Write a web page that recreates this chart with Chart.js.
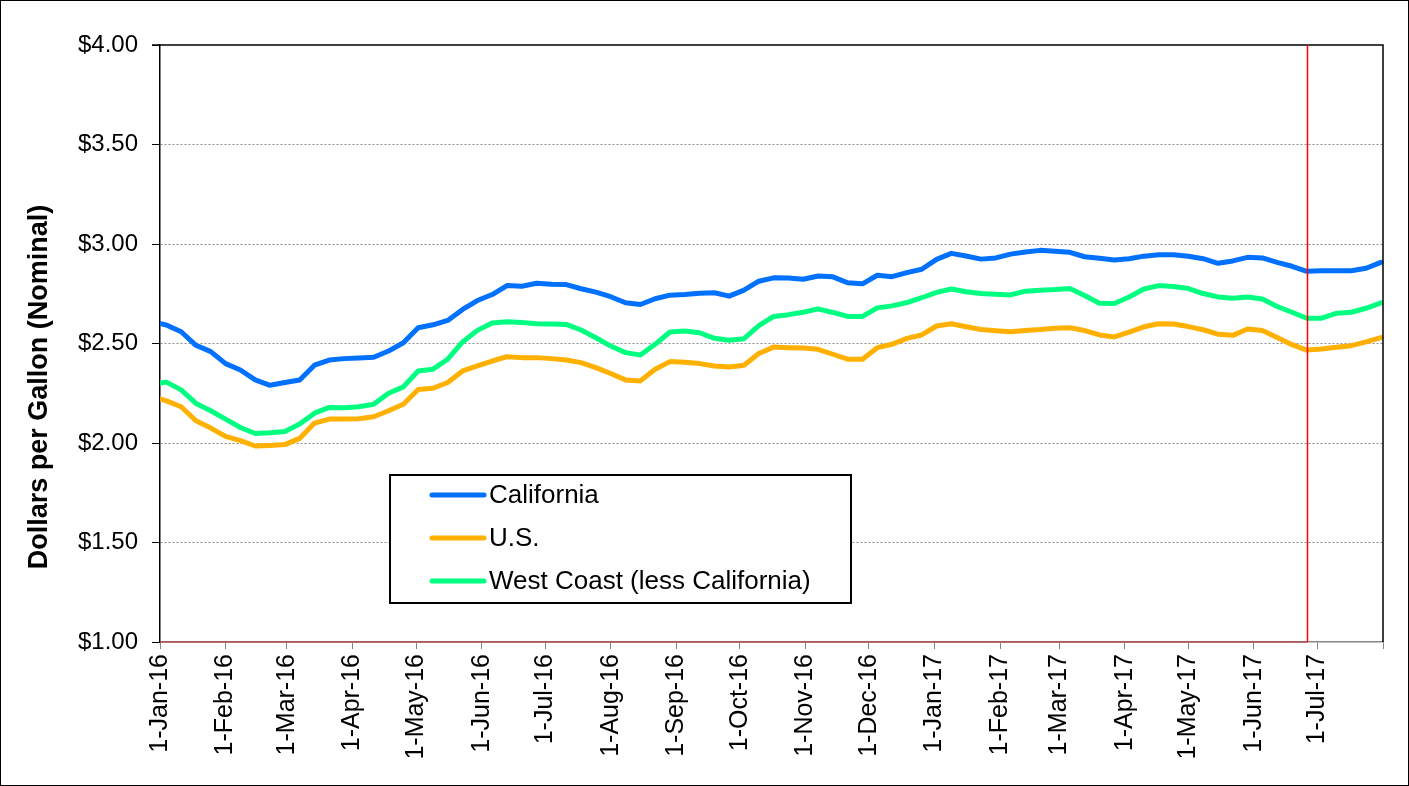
<!DOCTYPE html>
<html><head><meta charset="utf-8">
<script src="https://cdn.jsdelivr.net/npm/chart.js@4.4.0/dist/chart.umd.min.js"></script>
<style>html,body{margin:0;padding:0;background:#fff;}#wrap{width:1409px;height:786px;}canvas{display:block;}</style>
</head><body><div id="wrap"><canvas id="c" width="1409" height="786"></canvas></div>
<script>
const weekDates = [
'2015-12-28','2016-01-04','2016-01-11','2016-01-18','2016-01-25','2016-02-01','2016-02-08','2016-02-15','2016-02-22','2016-02-29',
'2016-03-07','2016-03-14','2016-03-21','2016-03-28','2016-04-04','2016-04-11','2016-04-18','2016-04-25','2016-05-02','2016-05-09',
'2016-05-16','2016-05-23','2016-05-30','2016-06-06','2016-06-13','2016-06-20','2016-06-27','2016-07-04','2016-07-11','2016-07-18',
'2016-07-25','2016-08-01','2016-08-08','2016-08-15','2016-08-22','2016-08-29','2016-09-05','2016-09-12','2016-09-19','2016-09-26',
'2016-10-03','2016-10-10','2016-10-17','2016-10-24','2016-10-31','2016-11-07','2016-11-14','2016-11-21','2016-11-28','2016-12-05',
'2016-12-12','2016-12-19','2016-12-26','2017-01-02','2017-01-09','2017-01-16','2017-01-23','2017-01-30','2017-02-06','2017-02-13',
'2017-02-20','2017-02-27','2017-03-06','2017-03-13','2017-03-20','2017-03-27','2017-04-03','2017-04-10','2017-04-17','2017-04-24',
'2017-05-01','2017-05-08','2017-05-15','2017-05-22','2017-05-29','2017-06-05','2017-06-12','2017-06-19','2017-06-26','2017-07-03',
'2017-07-10','2017-07-17','2017-07-24','2017-07-31'];

const california = [2.61,2.593,2.559,2.491,2.459,2.399,2.367,2.317,2.290,2.304,
2.317,2.391,2.417,2.424,2.427,2.431,2.462,2.504,2.579,2.594,
2.616,2.671,2.716,2.746,2.791,2.788,2.803,2.798,2.796,2.775,
2.758,2.735,2.705,2.696,2.725,2.743,2.746,2.753,2.755,2.738,
2.768,2.813,2.830,2.829,2.823,2.839,2.835,2.805,2.800,2.843,
2.836,2.856,2.873,2.923,2.953,2.940,2.924,2.930,2.949,2.960,
2.968,2.964,2.958,2.936,2.928,2.920,2.926,2.939,2.946,2.946,
2.938,2.926,2.903,2.915,2.933,2.930,2.908,2.888,2.863,2.866,
2.866,2.866,2.878,2.908];

const us = [2.235,2.212,2.182,2.112,2.075,2.033,2.012,1.985,1.988,1.992,
2.023,2.100,2.120,2.120,2.122,2.132,2.162,2.195,2.269,2.275,
2.304,2.362,2.387,2.412,2.434,2.429,2.429,2.424,2.417,2.404,
2.379,2.349,2.317,2.312,2.371,2.409,2.406,2.399,2.387,2.382,
2.391,2.450,2.482,2.479,2.477,2.471,2.446,2.421,2.421,2.479,
2.496,2.526,2.543,2.588,2.599,2.584,2.570,2.564,2.559,2.565,
2.570,2.577,2.579,2.565,2.543,2.533,2.557,2.584,2.599,2.598,
2.585,2.569,2.547,2.541,2.573,2.565,2.530,2.494,2.467,2.472,
2.481,2.489,2.508,2.530];

const westCoast = [2.295,2.306,2.267,2.199,2.162,2.120,2.078,2.048,2.052,2.058,
2.095,2.150,2.179,2.177,2.182,2.195,2.250,2.282,2.362,2.371,
2.421,2.508,2.566,2.603,2.609,2.606,2.599,2.598,2.596,2.568,
2.529,2.487,2.454,2.442,2.496,2.558,2.563,2.554,2.526,2.516,
2.524,2.590,2.636,2.645,2.657,2.674,2.656,2.636,2.636,2.679,
2.689,2.706,2.730,2.757,2.774,2.760,2.751,2.748,2.744,2.763,
2.768,2.771,2.776,2.741,2.702,2.701,2.734,2.774,2.791,2.786,
2.776,2.751,2.734,2.727,2.734,2.724,2.686,2.657,2.627,2.627,
2.652,2.657,2.677,2.704];

const seriesNames = ['California', 'U.S.', 'West Coast (less California)'];
const seriesColors = ['#0070FF', '#FFB000', '#00FF80'];

const monthTickDates = ['2016-01-01','2016-02-01','2016-03-01','2016-04-01','2016-05-01','2016-06-01','2016-07-01','2016-08-01','2016-09-01','2016-10-01',
'2016-11-01','2016-12-01','2017-01-01','2017-02-01','2017-03-01','2017-04-01','2017-05-01','2017-06-01','2017-07-01','2017-08-01'];
const monthTickLabels = ['1-Jan-16','1-Feb-16','1-Mar-16','1-Apr-16','1-May-16','1-Jun-16','1-Jul-16','1-Aug-16','1-Sep-16','1-Oct-16',
'1-Nov-16','1-Dec-16','1-Jan-17','1-Feb-17','1-Mar-17','1-Apr-17','1-May-17','1-Jun-17','1-Jul-17',''];
const yTickValues = [1.0, 1.5, 2.0, 2.5, 3.0, 3.5, 4.0];
const yTitle = 'Dollars per Gallon (Nominal)';
const forecastDate = '2017-06-26';

const FONT = '"Liberation Sans", Arial, sans-serif';
const ORIGIN = Date.parse('2016-01-01T00:00:00Z');
function dayOf(iso){ return Math.round((Date.parse(iso + 'T00:00:00Z') - ORIGIN) / 86400000); }

const seriesData = [california, us, westCoast];
const datasets = seriesData.map((vals, i) => ({
  label: seriesNames[i],
  data: vals.map((v, k) => ({x: dayOf(weekDates[k]), y: v})),
  borderColor: seriesColors[i],
  backgroundColor: seriesColors[i],
  borderWidth: 5,
  pointRadius: 0,
  tension: 0,
  borderJoinStyle: 'round',
  borderCapStyle: 'round',
  clip: {left: 0, right: 4, top: 4, bottom: 4}
}));
datasets[0].order = 0; datasets[1].order = 2; datasets[2].order = 1;

const extras = {
  id: 'extras',
  beforeDraw(chart) {
    const c = chart.ctx;
    c.save(); c.fillStyle = '#fff'; c.fillRect(0, 0, chart.width, chart.height); c.restore();
  },
  afterDraw(chart) {
    const c = chart.ctx, a = chart.chartArea, xs = chart.scales.x;
    c.save();
    c.strokeStyle = '#000'; c.lineWidth = 1.5;
    c.beginPath(); c.moveTo(a.left - 8, a.top); c.lineTo(a.right, a.top); c.lineTo(a.right, a.bottom); c.stroke();
    const fx = Math.round(xs.getPixelForValue(dayOf(forecastDate))) + 0.5;
    c.strokeStyle = '#B05050'; c.lineWidth = 1.5;
    c.beginPath(); c.moveTo(a.left, a.bottom); c.lineTo(fx, a.bottom); c.stroke();
    c.strokeStyle = '#FF0000'; c.lineWidth = 1.5;
    c.beginPath(); c.moveTo(fx, a.top); c.lineTo(fx, a.bottom); c.stroke();
    c.fillStyle = '#000'; c.font = 'bold 27px ' + FONT;
    c.textAlign = 'center'; c.textBaseline = 'middle';
    c.translate(40, 387); c.rotate(-Math.PI / 2); c.fillText(yTitle, 0, 0);
    c.restore();
    c.save();
    c.fillStyle = '#fff'; c.fillRect(390, 475, 461, 128);
    c.strokeStyle = '#000'; c.lineWidth = 2; c.strokeRect(390, 475, 461, 128);
    const rows = [495, 538, 581];
    c.font = '26px ' + FONT; c.textBaseline = 'middle'; c.textAlign = 'left';
    seriesNames.forEach((n, i) => {
      c.strokeStyle = seriesColors[i]; c.lineWidth = 5; c.lineCap = 'round';
      c.beginPath(); c.moveTo(432, rows[i]); c.lineTo(484, rows[i]); c.stroke();
      c.fillStyle = '#000'; c.fillText(n, 489, rows[i] + 1);
    });
    c.strokeStyle = '#000'; c.lineWidth = 1; c.strokeRect(0.5, 0.5, chart.width - 1, chart.height - 1);
    c.restore();
  }
};

new Chart(document.getElementById('c'), {
  type: 'line',
  data: {datasets},
  options: {
    responsive: false, animation: false, devicePixelRatio: 1,
    layout: {padding: {top: 45, right: 26, left: 0, bottom: 0}},
    plugins: {legend: {display: false}, tooltip: {enabled: false}, title: {display: false}},
    scales: {
      x: {
        type: 'linear', min: 0, max: dayOf(monthTickDates[monthTickDates.length - 1]),
        afterBuildTicks: s => { s.ticks = monthTickDates.map(d => ({value: dayOf(d)})); },
        afterFit: s => { s.height = 144; s.paddingLeft = 0; s.paddingRight = 0; },
        ticks: {autoSkip: false, maxRotation: 90, minRotation: 90, padding: 5, color: '#000',
          font: {family: FONT, size: 25},
          callback: (v, i) => monthTickLabels[i]},
        grid: {drawOnChartArea: false, drawTicks: true, tickLength: 7, color: '#868686', tickColor: '#868686', lineWidth: 1},
        border: {display: true, color: '#868686', width: 1.5}
      },
      y: {
        type: 'linear', min: 1, max: 4,
        afterBuildTicks: s => { s.ticks = yTickValues.map(v => ({value: v})); },
        afterFit: s => { s.width = 160; s.paddingTop = 0; s.paddingBottom = 0; },
        ticks: {padding: 14, color: '#000', font: {family: FONT, size: 24},
          callback: v => '$' + Number(v).toFixed(2)},
        grid: {drawOnChartArea: true, drawTicks: true, tickLength: 8, lineWidth: 1,
          color: ctx => (ctx.tick && (ctx.tick.value === 1 || ctx.tick.value === 4)) ? 'rgba(0,0,0,0)' : '#8C8C8C',
          tickColor: '#000'},
        border: {display: true, color: '#000', width: 1.5, dash: [2, 2]}
      }
    }
  },
  plugins: [extras]
});
</script>
</body></html>
